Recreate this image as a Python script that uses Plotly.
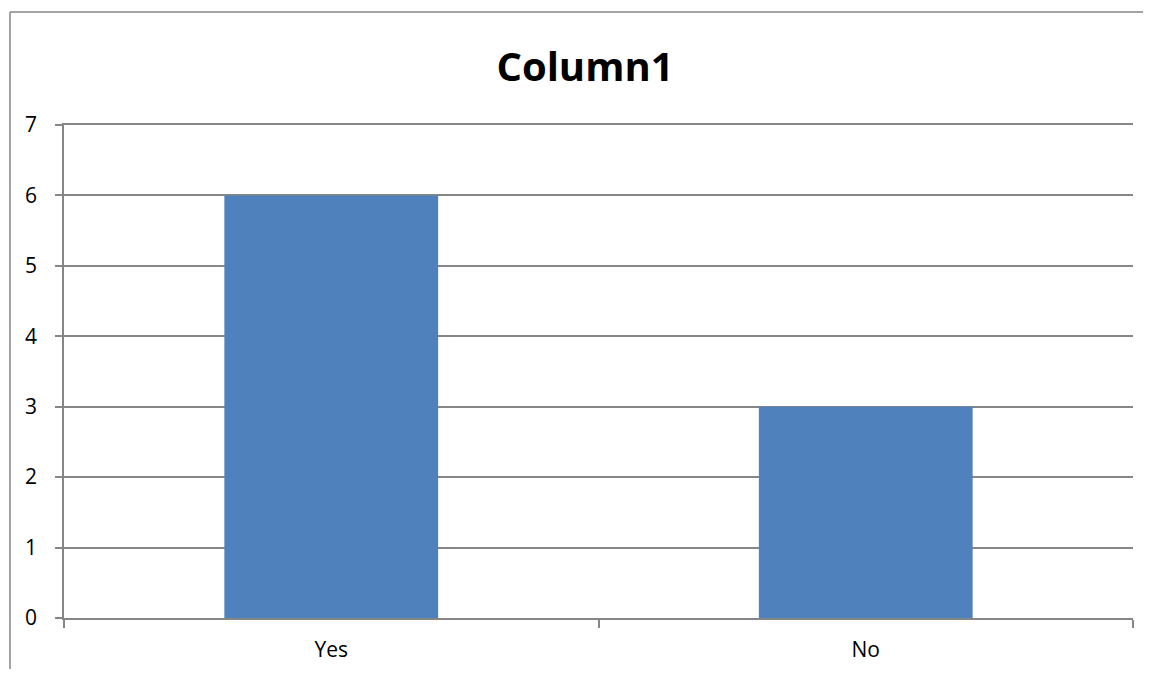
import plotly.graph_objects as go

categories = ["Yes", "No"]
values = [6, 3]
title_text = "Column1"

# page has an 8px body offset; size figure so that plot area lands at x 64-1133, y 125-618
OFF = 8
W, H = 1151 - OFF, 677 - 2 * OFF
L, T = 64 - OFF, 125 - OFF
pw, ph = 1133 - 64, 618 - 125
R, B = W - L - pw, H - T - ph

fig = go.Figure(go.Bar(x=categories, y=values, marker=dict(color="#4F81BD", line=dict(width=0))))

grid = "#868686"
fam = "Open Sans, Lato, sans-serif"

# chart-area border (top and left edges visible; right/bottom fall outside the picture)
bx0 = (10 - 64) / pw
by1 = (618 - 12) / ph
bx1 = (1151 - 64) / pw
by0 = -(677 - 618) / ph
border = [
    dict(type="line", xref="paper", yref="paper", x0=bx0, x1=bx1, y0=by1, y1=by1,
         line=dict(color=grid, width=1.5), layer="above"),
    dict(type="line", xref="paper", yref="paper", x0=bx0, x1=bx0, y0=by0, y1=by1,
         line=dict(color=grid, width=1.5), layer="above"),
]

fig.update_layout(
    width=W, height=H,
    margin=dict(l=L, r=R, t=T, b=B, autoexpand=False),
    paper_bgcolor="white", plot_bgcolor="white",
    bargap=0.6,
    showlegend=False,
    font=dict(family=fam, color="black"),
    title=dict(text="<b>" + title_text + "</b>", x=(585 - 64) / pw, xanchor="center",
               xref="paper",
               y=1 - (67 - OFF) / H, yanchor="middle",
               font=dict(size=40, family=fam, color="black")),
    xaxis=dict(type="category", showgrid=False, showline=True, linecolor=grid, linewidth=1.5,
               mirror=True,
               ticks="outside", tickson="boundaries", ticklen=8, tickcolor=grid, tickwidth=1.5,
               tickfont=dict(size=21, family=fam), ticklabelstandoff=12, zeroline=False),
    yaxis=dict(range=[0, 7], dtick=1, showgrid=True, gridcolor=grid, gridwidth=1.5,
               showline=True, linecolor=grid, linewidth=1.5,
               ticks="outside", ticklen=7, tickcolor=grid, tickwidth=1.5,
               tickfont=dict(size=21, family=fam), ticklabelstandoff=14, zeroline=False),
    shapes=border,
)

fig.write_html("out.html")
